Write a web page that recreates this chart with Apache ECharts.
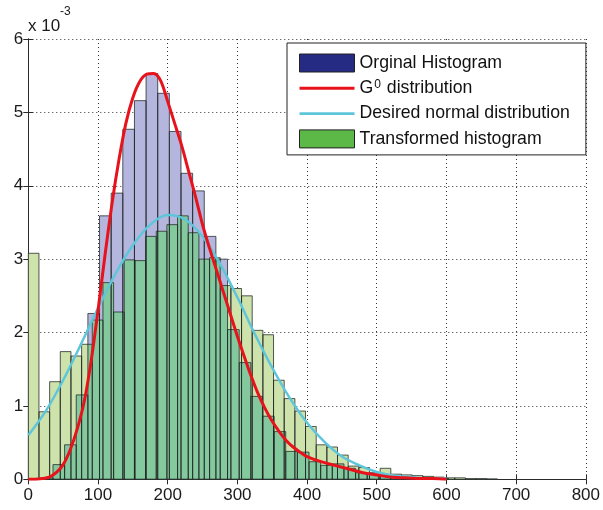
<!DOCTYPE html>
<html>
<head>
<meta charset="utf-8">
<script src="https://cdn.jsdelivr.net/npm/echarts@6/dist/echarts.min.js"></script>
<style>
  html, body { margin: 0; padding: 0; background: #fff; }
  #chart { width: 603px; height: 510px; }
</style>
</head>
<body>
<div id="chart"></div>
<script>
// Original histogram: equal-width bins starting at origStart (density, x 10^-3)
const origStart = 2;
const origWidth = 16.7;
const origHeights = [0.01, 0.02, 0.2, 0.47, 1.15, 2.26, 3.59, 3.90, 4.77, 5.16,
  5.53, 5.26, 4.74, 4.17, 3.93, 3.31, 3.0, 2.04, 1.59, 1.13,
  0.86, 0.65, 0.38, 0.37, 0.24, 0.19, 0.21, 0.15, 0.09, 0.07,
  0.05, 0.04, 0.03, 0.02, 0.02, 0.01];

// Transformed histogram
const transStart = 0;
const transWidth = 15.3;
const transHeights = [3.08, 0.92, 1.33, 1.74, 1.68, 1.84, 2.17, 2.68, 2.28, 2.99,
  2.98, 3.31, 3.38, 3.47, 3.59, 3.36, 3.0, 3.02, 2.64, 2.6,
  2.5, 2.03, 1.97, 1.35, 1.1, 0.93, 0.72, 0.47, 0.44, 0.33,
  0.18, 0.16, 0.09, 0.15, 0.07, 0.06, 0.05, 0.04, 0.03, 0.02,
  0.02, 0.01, 0.01, 0.005];

// G0 distribution curve
const g0X = [0, 10, 20, 30, 40, 50, 60, 70, 80, 90,
  100, 110, 120, 130, 140, 150, 160, 170, 180, 190,
  200, 210, 220, 230, 240, 250, 260, 270, 280, 290,
  300, 310, 320, 330, 340, 350, 360, 370, 380, 390,
  400, 420, 440, 460, 480, 500, 520, 540, 560, 580, 600];
const g0Y = [0, 0, 0.01, 0.03, 0.09, 0.2, 0.4, 0.68, 1.05, 1.6,
  2.3, 3.05, 3.75, 4.35, 4.85, 5.2, 5.42, 5.52, 5.53, 5.43,
  5.15, 4.85, 4.55, 4.2, 3.85, 3.47, 3.15, 2.85, 2.55, 2.25,
  1.95, 1.67, 1.4, 1.16, 0.96, 0.79, 0.65, 0.53, 0.44, 0.37,
  0.31, 0.24, 0.19, 0.14, 0.09, 0.06, 0.03, 0.02, 0.01, 0.01, 0];

// Desired normal distribution curve
const normX = [0, 25, 50, 75, 100, 125, 150, 175, 200, 225, 250, 275, 300,
  325, 350, 375, 400, 425, 450, 475, 500, 525, 550, 575, 600];
const normY = [0.60, 0.93, 1.35, 1.83, 2.33, 2.80, 3.19, 3.47, 3.60, 3.54, 3.31, 2.94, 2.48,
  1.98, 1.52, 1.11, 0.77, 0.51, 0.31, 0.19, 0.10, 0.05, 0.03, 0.01, 0.01];

const xTicks = [0, 800, 100];
const yTicks = [0, 6, 1];

const FONT = '"Liberation Sans", Arial, Helvetica, sans-serif';
const ORIG_FILL = '#b5b6de';
const TRANS_FILL = '#cde3ab';
const BOTH_FILL = '#84c89d';
const EDGE = 'rgba(30,35,35,0.75)';
const LINE_ICON = 'path://M0,0L60,0L60,3.2L0,3.2Z';

function bins(start, width, heights) {
  return heights.map((h, i) => [start + i * width, start + (i + 1) * width, h]);
}
function pairs(xs, ys) {
  return xs.map((x, i) => [x, ys[i]]);
}
const origBins = bins(origStart, origWidth, origHeights);
const transBins = bins(transStart, transWidth, transHeights);

function rectFor(api, x0, x1, h) {
  const a = api.coord([x0, h]);
  const b = api.coord([x1, 0]);
  return { x: a[0], y: a[1], width: b[0] - a[0], height: b[1] - a[1] };
}

// plain filled bars
function fillRenderer(fill) {
  return function (params, api) {
    return {
      type: 'rect',
      shape: rectFor(api, api.value(0), api.value(1), api.value(2)),
      style: { fill: fill }
    };
  };
}

// outline-only bars
function edgeRenderer(params, api) {
  return {
    type: 'rect',
    shape: rectFor(api, api.value(0), api.value(1), api.value(2)),
    style: { fill: null, stroke: EDGE, lineWidth: 1 }
  };
}

// transformed bars; where they cover the original histogram the colour mixes
function transRenderer(params, api) {
  const x0 = api.value(0), x1 = api.value(1), h = api.value(2);
  const children = [{
    type: 'rect',
    shape: rectFor(api, x0, x1, h),
    style: { fill: TRANS_FILL }
  }];
  origBins.forEach(function (b) {
    const ox0 = Math.max(x0, b[0]);
    const ox1 = Math.min(x1, b[1]);
    const oh = Math.min(h, b[2]);
    if (ox1 > ox0 && oh > 0) {
      children.push({
        type: 'rect',
        shape: rectFor(api, ox0, ox1, oh),
        style: { fill: BOTH_FILL }
      });
    }
  });
  return { type: 'group', children: children };
}

const chart = echarts.init(document.getElementById('chart'), null, { renderer: 'canvas' });

const axisLineStyle = { color: '#2a2a2a', width: 1 };
const gridDots = { type: [1, 3], color: '#333', width: 1 };

chart.setOption({
  animation: false,
  backgroundColor: '#fff',
  grid: { left: 28.3, right: 14.7, top: 39, bottom: 30.7, containLabel: false },
  xAxis: [
    {
      type: 'value', min: xTicks[0], max: xTicks[1], interval: xTicks[2],
      position: 'bottom',
      axisLine: { show: true, lineStyle: axisLineStyle },
      axisTick: { show: true, inside: true, length: 5, lineStyle: axisLineStyle },
      axisLabel: { show: true, margin: 8, color: '#1a1a1a', fontSize: 17, fontFamily: FONT },
      splitLine: { show: true, lineStyle: gridDots }
    },
    {
      type: 'value', min: xTicks[0], max: xTicks[1], interval: xTicks[2],
      position: 'top',
      axisLine: { show: true, lineStyle: axisLineStyle },
      axisTick: { show: true, inside: true, length: 5, lineStyle: axisLineStyle },
      axisLabel: { show: false },
      splitLine: { show: false }
    }
  ],
  yAxis: [
    {
      type: 'value', min: yTicks[0], max: yTicks[1], interval: yTicks[2],
      position: 'left',
      axisLine: { show: true, lineStyle: axisLineStyle },
      axisTick: { show: true, inside: true, length: 5, lineStyle: axisLineStyle },
      axisLabel: { show: true, margin: 5, color: '#1a1a1a', fontSize: 17, fontFamily: FONT },
      splitLine: { show: true, lineStyle: gridDots }
    },
    {
      type: 'value', min: yTicks[0], max: yTicks[1], interval: yTicks[2],
      position: 'right',
      axisLine: { show: true, lineStyle: axisLineStyle },
      axisTick: { show: true, inside: true, length: 5, lineStyle: axisLineStyle },
      axisLabel: { show: false },
      splitLine: { show: false }
    }
  ],
  legend: {
    orient: 'vertical',
    left: 287, top: 43,
    backgroundColor: '#fff',
    borderColor: '#222', borderWidth: 1, borderRadius: 0,
    padding: [10, 16, 6, 12],
    itemGap: 5.3,
    itemWidth: 55, itemHeight: 18,
    textStyle: {
      fontFamily: FONT, fontSize: 17.7, color: '#111', lineHeight: 20,
      rich: {
        n: { fontFamily: FONT, fontSize: 17.7, color: '#111', lineHeight: 20 },
        sup: { fontFamily: FONT, fontSize: 12, color: '#111', lineHeight: 12, verticalAlign: 'top', padding: [0, 1, 0, 1] }
      }
    },
    formatter: function (name) {
      return name === 'G0 distribution' ? '{n|G}{sup|0}{n| distribution}' : name;
    },
    data: [
      { name: 'Orginal Histogram', icon: 'rect', itemStyle: { color: '#252b82', borderColor: '#222', borderWidth: 1 } },
      { name: 'G0 distribution', icon: LINE_ICON, itemStyle: { color: '#e8121c', borderWidth: 0 } },
      { name: 'Desired normal distribution', icon: LINE_ICON, itemStyle: { color: '#5ec6da', borderWidth: 0 } },
      { name: 'Transformed histogram', icon: 'rect', itemStyle: { color: '#5cb947', borderColor: '#222', borderWidth: 1 } }
    ]
  },
  graphic: [
    { type: 'text', left: 28, top: 18, style: { text: 'x 10', font: '17px ' + FONT, fill: '#1a1a1a' } },
    { type: 'text', left: 60, top: 6, style: { text: '-3', font: '12px ' + FONT, fill: '#1a1a1a' } }
  ],
  series: [
    {
      name: 'Orginal Histogram',
      type: 'custom',
      renderItem: fillRenderer(ORIG_FILL),
      encode: { x: [0, 1], y: 2 },
      itemStyle: { color: '#252b82' },
      data: origBins,
      z: 1
    },
    {
      name: 'Transformed histogram',
      type: 'custom',
      renderItem: transRenderer,
      encode: { x: [0, 1], y: 2 },
      itemStyle: { color: '#5cb947' },
      data: transBins,
      z: 2
    },
    {
      name: 'Orginal Histogram',
      type: 'custom',
      renderItem: edgeRenderer,
      encode: { x: [0, 1], y: 2 },
      itemStyle: { color: '#252b82' },
      data: origBins,
      z: 3
    },
    {
      name: 'Transformed histogram',
      type: 'custom',
      renderItem: edgeRenderer,
      encode: { x: [0, 1], y: 2 },
      itemStyle: { color: '#5cb947' },
      data: transBins,
      z: 4
    },
    {
      name: 'Desired normal distribution',
      type: 'line',
      data: pairs(normX, normY),
      smooth: 0.3,
      symbol: 'none',
      lineStyle: { color: '#5ec6da', width: 2.5 },
      itemStyle: { color: '#5ec6da' },
      z: 5
    },
    {
      name: 'G0 distribution',
      type: 'line',
      data: pairs(g0X, g0Y),
      smooth: 0.3,
      symbol: 'none',
      lineStyle: { color: '#e8121c', width: 3 },
      itemStyle: { color: '#e8121c' },
      z: 6
    }
  ]
});
</script>
</body>
</html>
